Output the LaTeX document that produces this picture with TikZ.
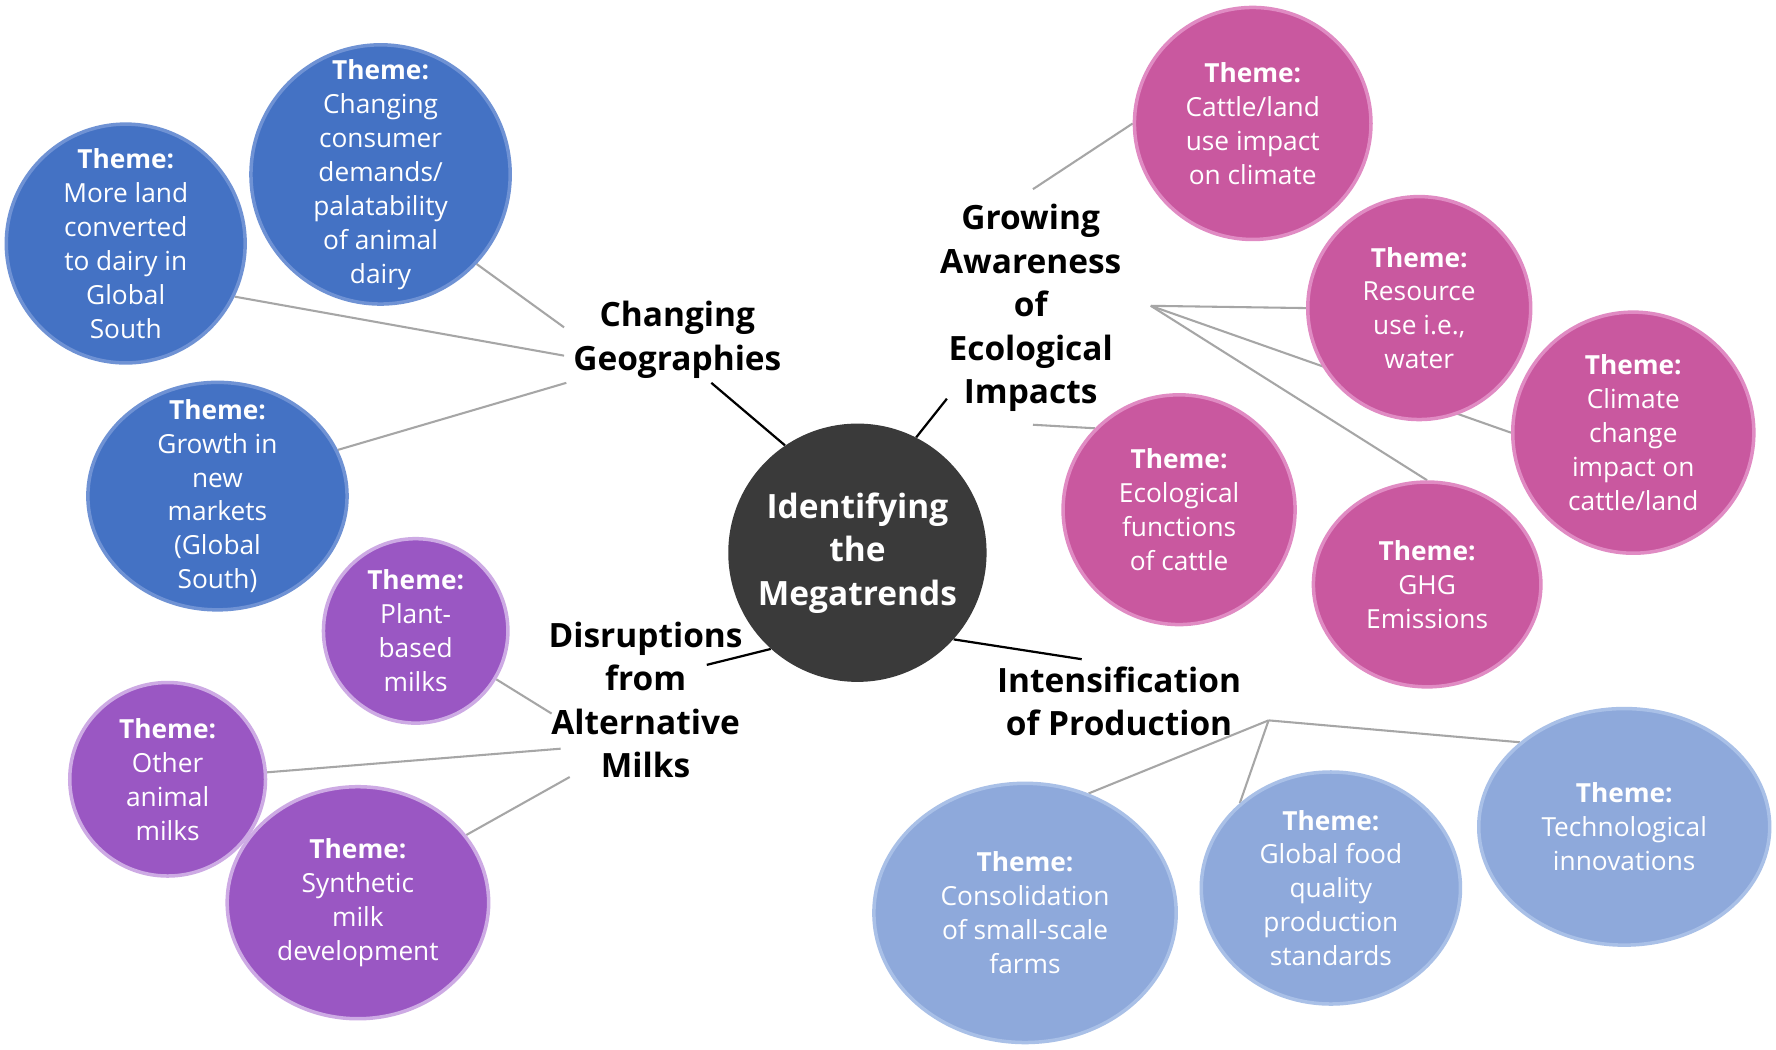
\documentclass[tikz,border=0pt]{standalone}
\usepackage{fontspec}
\setmainfont{Open Sans}
\usepackage{tikz}
\usetikzlibrary{shapes.geometric, backgrounds}
\definecolor{geoblue}{HTML}{4472C4}
\definecolor{geoedge}{HTML}{6F92D4}
\definecolor{ecopink}{HTML}{C9589F}
\definecolor{ecoedge}{HTML}{E08BC3}
\definecolor{altpurple}{HTML}{9A57C3}
\definecolor{altedge}{HTML}{CDAAE4}
\definecolor{prodblue}{HTML}{8EA9DB}
\definecolor{prodedge}{HTML}{A9C0E7}
\definecolor{hubgrey}{HTML}{3A3A3A}
\definecolor{linkgrey}{HTML}{A6A6A6}
\tikzstyle{themetext} = [align=center, inner sep=0pt, text=white, font=\fontsize{16.5}{21.3}\selectfont]
\tikzstyle{theme} = [ellipse, inner sep=0pt, line width=2.2pt]
\tikzstyle{geotheme} = [theme, fill=geoblue, draw=geoedge]
\tikzstyle{ecotheme} = [theme, fill=ecopink, draw=ecoedge]
\tikzstyle{alttheme} = [theme, fill=altpurple, draw=altedge]
\tikzstyle{prodtheme} = [theme, fill=prodblue, draw=prodedge]
\tikzstyle{heading} = [align=center, inner sep=0pt, font=\fontsize{21}{27.3}\selectfont\bfseries]
\tikzstyle{link} = [draw=linkgrey, line width=1.3pt]
\tikzstyle{spoke} = [draw=black, line width=1.4pt]

\begin{document}
\begin{tikzpicture}[x=0.025cm, y=-0.025cm]
    \useasboundingbox (0,0) rectangle (1568,927);
    % centre
    \node[circle, fill=hubgrey, text=white, minimum size=5.7cm, inner sep=0pt, align=center, font=\fontsize{21}{27.3}\selectfont\bfseries] (mega) at (757,488) {Identifying\\the\\Megatrends};

    % megatrend headings
    \node[heading] (geo) at (598,300) {Changing\\Geographies};
    \node[heading] (eco) at (910,272) {Growing\\Awareness\\of\\Ecological\\Impacts};
    \node[heading] (alt) at (570,618) {Disruptions\\from\\Alternative\\Milks};
    \node[heading] (prod) at (988,619) {Intensification\\of Production};

    \coordinate (geoend) at (628,338);
    \coordinate (ecoend) at (836,352);
    \coordinate (altend) at (624,587);
    \coordinate (prodend) at (955,582);
    \coordinate (geoA) at (498,289);
    \coordinate (geoB) at (498,314);
    \coordinate (geoC) at (500,338);
    \coordinate (ecotop) at (912,167);
    \coordinate (ecohub) at (1016,270);
    \coordinate (ecolow) at (912,375);
    \coordinate (altA) at (487,630);
    \coordinate (altB) at (495,661);
    \coordinate (altC) at (503,686);
    \coordinate (prodhub) at (1120,636);

    % Changing Geographies
    \node[geotheme, minimum width=5.72cm, minimum height=5.72cm, label={[themetext]center:{\textbf{Theme:}\\Changing\\consumer\\demands/\\palatability\\of animal\\dairy}}] (consumer) at (336,154) {};
    \node[geotheme, minimum width=5.27cm, minimum height=5.27cm, label={[themetext]center:{\textbf{Theme:}\\More land\\converted\\to dairy in\\Global\\South}}] (landuse) at (111,215) {};
    \node[geotheme, minimum width=5.72cm, minimum height=5.02cm, label={[themetext]center:{\textbf{Theme:}\\Growth in\\new\\markets\\(Global\\South)}}] (markets) at (192,438) {};

    % Growing Awareness of Ecological Impacts
    \node[ecotheme, minimum width=5.22cm, minimum height=5.12cm, label={[themetext]center:{\textbf{Theme:}\\Cattle/land\\use impact\\on climate}}] (climate) at (1106,109) {};
    \node[ecotheme, minimum width=4.92cm, minimum height=4.92cm, label={[themetext]center:{\textbf{Theme:}\\Resource\\use i.e.,\\water}}] (water) at (1253,272) {};
    \node[ecotheme, minimum width=5.32cm, minimum height=5.32cm, label={[themetext]center:{\textbf{Theme:}\\Climate\\change\\impact on\\cattle/land}}] (change) at (1442,382) {};
    \node[ecotheme, minimum width=5.12cm, minimum height=5.07cm, label={[themetext]center:{\textbf{Theme:}\\Ecological\\functions\\of cattle}}] (functions) at (1041,450) {};
    \node[ecotheme, minimum width=5.02cm, minimum height=4.52cm, label={[themetext]center:{\textbf{Theme:}\\GHG\\Emissions}}] (ghg) at (1260,516) {};

    % Disruptions from Alternative Milks
    \node[alttheme, minimum width=4.07cm, minimum height=4.07cm, label={[themetext]center:{\textbf{Theme:}\\Plant-\\based\\milks}}] (plant) at (367,557) {};
    \node[alttheme, minimum width=4.32cm, minimum height=4.27cm, label={[themetext]center:{\textbf{Theme:}\\Other\\animal\\milks}}] (animal) at (148,688) {};
    \node[alttheme, minimum width=5.77cm, minimum height=5.12cm, label={[themetext]center:{\textbf{Theme:}\\Synthetic\\milk\\development}}] (synthetic) at (316,797) {};

    % Intensification of Production
    \node[prodtheme, minimum width=6.67cm, minimum height=5.72cm, label={[themetext]center:{\textbf{Theme:}\\Consolidation\\of small-scale\\farms}}] (farms) at (905,806) {};
    \node[prodtheme, minimum width=5.72cm, minimum height=5.12cm, label={[themetext]center:{\textbf{Theme:}\\Global food\\quality\\production\\standards}}] (standards) at (1175,784) {};
    \node[prodtheme, minimum width=6.42cm, minimum height=5.22cm, label={[themetext]center:{\textbf{Theme:}\\Technological\\innovations}}] (tech) at (1434,730) {};

    \begin{scope}[on background layer]
        \fill[white] (0,0) rectangle (1568,927);
        \draw[spoke] (mega.124) -- (geoend);
        \draw[spoke] (mega.63) -- (ecoend);
        \draw[spoke] (mega.-132) -- (altend);
        \draw[spoke] (mega.-42) -- (prodend);

        \draw[link] (geoA) -- (consumer.-43);
        \draw[link] (geoB) -- (landuse.-26);
        \draw[link] (geoC) -- (markets.21);

        \draw[link] (ecotop) -- (climate.west);
        \draw[link] (ecohub) -- (water.west);
        \draw[link] (ecohub) -- (change.west);
        \draw[link] (ecohub) -- (ghg.north);
        \draw[link] (ecolow) -- (functions.136);

        \draw[link] (altA) -- (plant.-31);
        \draw[link] (altB) -- (animal.4);
        \draw[link] (altC) -- (synthetic.32);

        \draw[link] (prodhub) -- (farms.62);
        \draw[link] (prodhub) -- (standards.137);
        \draw[link] (prodhub) -- (tech.141);
    \end{scope}
\end{tikzpicture}
\end{document}
